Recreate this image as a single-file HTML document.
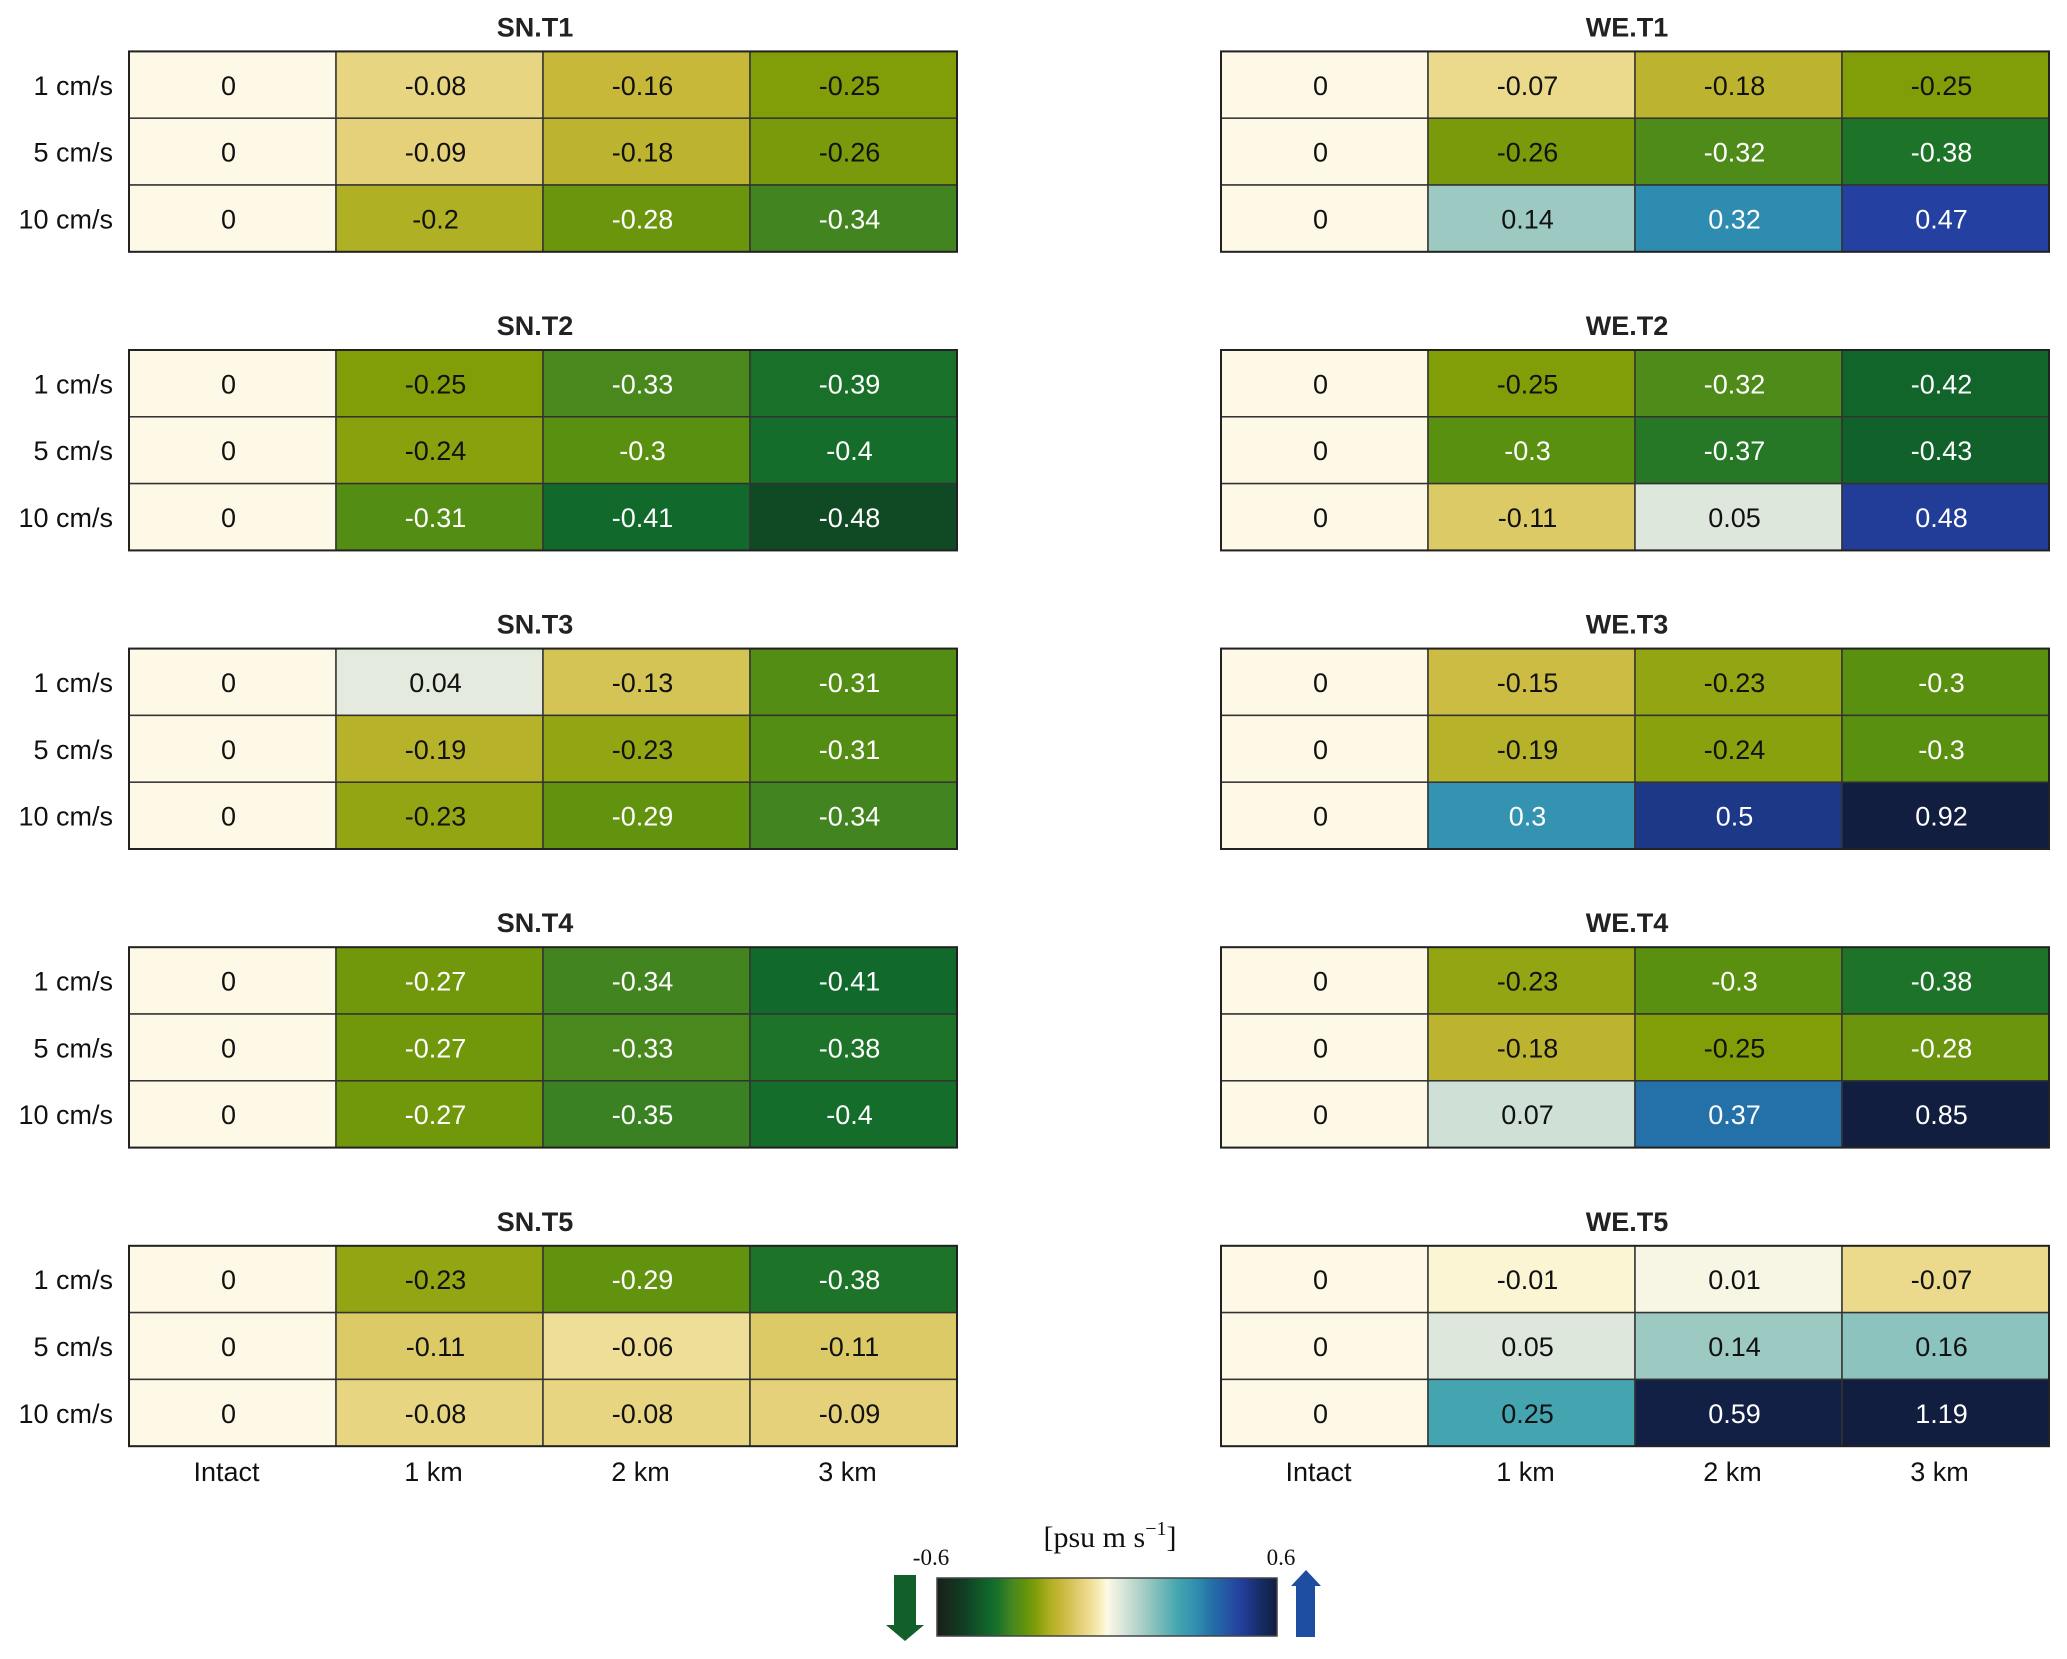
<!DOCTYPE html>
<html><head><meta charset="utf-8">
<style>
html,body{margin:0;padding:0;background:#fff;}
svg{display:block;font-family:"Liberation Sans",Arial,sans-serif;}
</style></head>
<body>
<svg id="fig" width="2067" height="1659" viewBox="0 0 2067 1659" xmlns="http://www.w3.org/2000/svg"></svg>
<script>
const rowLabels = ["1 cm/s","5 cm/s","10 cm/s"];
const colLabels = ["Intact","1 km","2 km","3 km"];
const panelTitles = ["SN.T1","SN.T2","SN.T3","SN.T4","SN.T5","WE.T1","WE.T2","WE.T3","WE.T4","WE.T5"];
const snT1 = [[0,-0.08,-0.16,-0.25],[0,-0.09,-0.18,-0.26],[0,-0.2,-0.28,-0.34]];
const snT2 = [[0,-0.25,-0.33,-0.39],[0,-0.24,-0.3,-0.4],[0,-0.31,-0.41,-0.48]];
const snT3 = [[0,0.04,-0.13,-0.31],[0,-0.19,-0.23,-0.31],[0,-0.23,-0.29,-0.34]];
const snT4 = [[0,-0.27,-0.34,-0.41],[0,-0.27,-0.33,-0.38],[0,-0.27,-0.35,-0.4]];
const snT5 = [[0,-0.23,-0.29,-0.38],[0,-0.11,-0.06,-0.11],[0,-0.08,-0.08,-0.09]];
const weT1 = [[0,-0.07,-0.18,-0.25],[0,-0.26,-0.32,-0.38],[0,0.14,0.32,0.47]];
const weT2 = [[0,-0.25,-0.32,-0.42],[0,-0.3,-0.37,-0.43],[0,-0.11,0.05,0.48]];
const weT3 = [[0,-0.15,-0.23,-0.3],[0,-0.19,-0.24,-0.3],[0,0.3,0.5,0.92]];
const weT4 = [[0,-0.23,-0.3,-0.38],[0,-0.18,-0.25,-0.28],[0,0.07,0.37,0.85]];
const weT5 = [[0,-0.01,0.01,-0.07],[0,0.05,0.14,0.16],[0,0.25,0.59,1.19]];
const panels = [snT1,snT2,snT3,snT4,snT5,weT1,weT2,weT3,weT4,weT5];
const cbTicks = [-0.6,0.6];

const NS="http://www.w3.org/2000/svg";
const svg=document.getElementById('fig');
function el(t,a,p){const e=document.createElementNS(NS,t);for(const k in a)e.setAttribute(k,a[k]);(p||svg).appendChild(e);return e;}

const stops=[[-0.6,"#1a1f18"],[-0.5,"#0f4025"],[-0.48,"#0f4a25"],[-0.41,"#116a2c"],[-0.38,"#1d7428"],[-0.34,"#428520"],[-0.3,"#5a9010"],[-0.25,"#819d08"],[-0.2,"#b0b024"],[-0.16,"#c8b83a"],[-0.08,"#e8d582"],[-0.02,"#faf0c0"],[0,"#fdf9e6"],[0.05,"#dee7dc"],[0.14,"#9ccac2"],[0.25,"#44a5b0"],[0.32,"#2e8cb0"],[0.37,"#2470a8"],[0.47,"#2440a0"],[0.55,"#152a60"],[0.6,"#121e40"]];
function hex(h){return [1,3,5].map(i=>parseInt(h.substr(i,2),16));}
function cmap(v){
  v=Math.max(-0.6,Math.min(0.6,v));
  for(let i=0;i<stops.length-1;i++){
    const [a,ca]=stops[i],[b,cb]=stops[i+1];
    if(v>=a&&v<=b){const t=(v-a)/(b-a);const A=hex(ca),B=hex(cb);
      return "rgb("+A.map((x,j)=>Math.round(x+(B[j]-x)*t)).join(",")+")";}
  }
  return stops[stops.length-1][1];
}
const panelX=[129,1221], panelW=828, panelTop0=51.4, panelStep=298.6, panelH=200.4;
const colW=panelW/colLabels.length, rowH=panelH/rowLabels.length;
function xPos(pi,c){return panelX[Math.floor(pi/5)]+c*colW;}
function yPos(pi,r){return panelTop0+(pi%5)*panelStep+r*rowH;}

panels.forEach((data,pi)=>{
  const g=el('g',{});
  
  
  const x0=xPos(pi,0), y0=yPos(pi,0);
  const t=el('text',{x:x0+panelW/2-8,y:y0-15,'text-anchor':'middle','font-size':27,'font-weight':'bold',fill:'#222'},g);
  t.textContent=panelTitles[pi];
  
  
  data.forEach((row,r)=>{
    row.forEach((v,c)=>{
      const rc=el('rect',{x:xPos(pi,c),y:yPos(pi,r),width:colW,height:rowH,fill:cmap(v),stroke:'#333','stroke-width':1.5},g);
      
      
      const white=(v<=-0.27||v>=0.28);
      const tx=el('text',{x:xPos(pi,c)+colW/2-4,y:yPos(pi,r)+rowH/2+10,'text-anchor':'middle','font-size':27,fill:white?'#fff':'#111'},g);
      tx.textContent=String(v);
      
      
    });
    if(pi<5){
      const rl=el('text',{x:113,y:yPos(pi,r)+rowH/2+10,'text-anchor':'end','font-size':27,fill:'#111'},g);
      rl.textContent=rowLabels[r];
      
      
    }
  });
  el('rect',{x:x0,y:y0,width:panelW,height:panelH,fill:'none',stroke:'#222','stroke-width':2},g);
  if(pi%5===4){
    colLabels.forEach((cl,c)=>{
      const l=el('text',{x:xPos(pi,c)+colW/2-6,y:y0+panelH+35,'text-anchor':'middle','font-size':27,fill:'#111'},g);
      l.textContent=cl;
      
      
    });
  }
});

const cbX0=937, cbX1=1277, cbY=1578, cbH=58;
const defs=el('defs',{});
const lg=el('linearGradient',{id:'cbg',x1:0,x2:1,y1:0,y2:0},defs);
stops.forEach(([v,c])=>el('stop',{offset:((v+0.6)/1.2),'stop-color':c},lg));
const cbg=el('g',{});


el('rect',{x:cbX0,y:cbY,width:cbX1-cbX0,height:cbH,fill:'url(#cbg)',stroke:'#444','stroke-width':1.5},cbg);
cbTicks.forEach(v=>{
  const x=cbX0+(v+0.6)/1.2*(cbX1-cbX0);
  const t=el('text',{x:v<0?x-6:x+4,y:1565,'text-anchor':'middle','font-size':23,'font-family':'"Liberation Serif",serif',fill:'#111'},cbg);
  t.textContent=String(v);
  
  
});
const ut=el('text',{x:1110,y:1547,'text-anchor':'middle','font-size':30,'font-family':'"Liberation Serif",serif',fill:'#111'},cbg);
ut.innerHTML='[psu m s<tspan dy="-12" font-size="20">−1</tspan><tspan dy="12">]</tspan>';


const da=el('polygon',{points:'894,1575 916,1575 916,1625 924,1625 905,1641 886,1625 894,1625',fill:'#125f2a'},cbg);


const ua=el('polygon',{points:'1296,1637 1315,1637 1315,1586 1321,1586 1306,1570 1291,1586 1296,1586',fill:'#1e4ea0'},cbg);


</script>
</body></html>
